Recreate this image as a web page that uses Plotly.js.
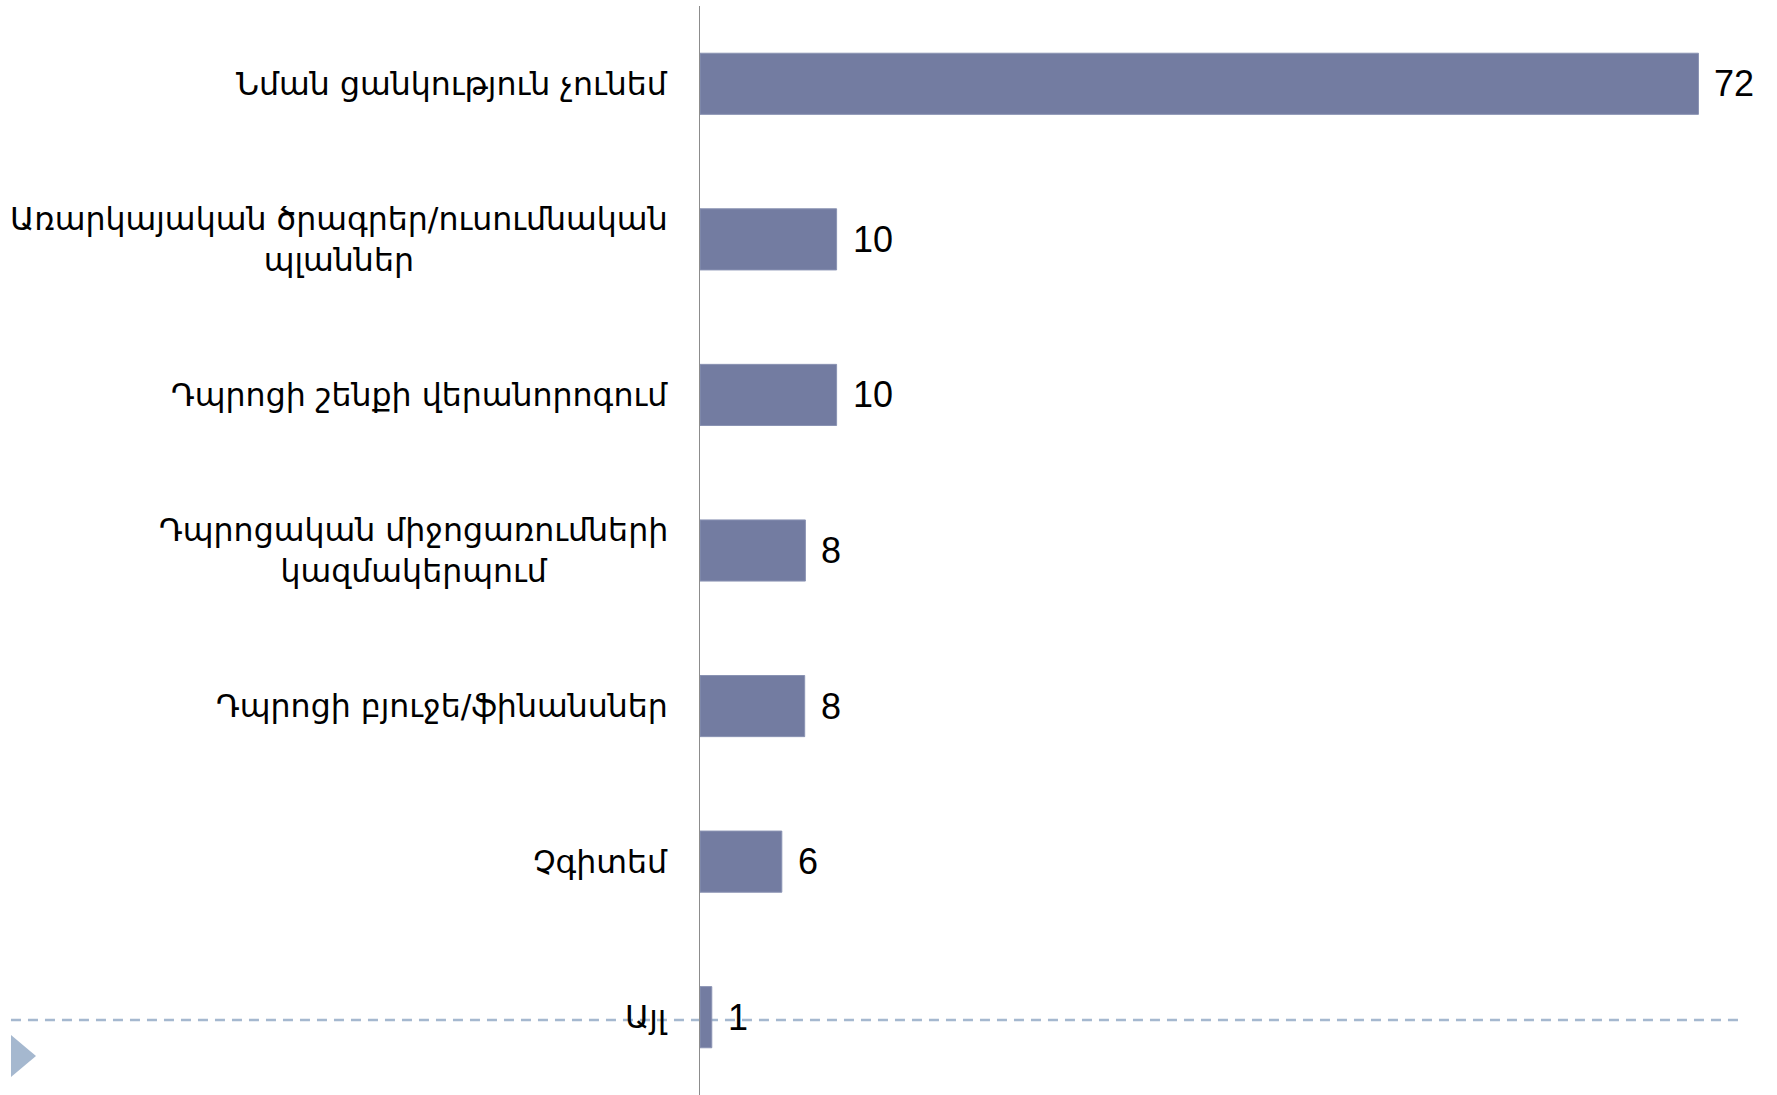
<!DOCTYPE html>
<html>
<head>
<meta charset="utf-8">
<script src="https://cdn.plot.ly/plotly-3.0.1.min.js"></script>
<style>html,body{margin:0;padding:0;background:#fff;}#chart{width:1777px;height:1095px;}</style>
</head>
<body>
<div id="chart"></div>
<script>
const categories = [
  "Նման ցանկություն չունեմ",
  "Առարկայական ծրագրեր/ուսումնական<br>պլաններ",
  "Դպրոցի շենքի վերանորոգում",
  "Դպրոցական միջոցառումների<br>կազմակերպում",
  "Դպրոցի բյուջե/ֆինանսներ",
  "Չգիտեմ",
  "Այլ"
];
// bar lengths
const values = [72, 9.85, 9.85, 7.6, 7.55, 5.9, 0.85];
// value labels as printed on the chart
const valueLabels = ["72", "10", "10", "8", "8", "6", "1"];

const barColor = "#737ca1";
const labelFont = {family: "DejaVu Sans, sans-serif", size: 31.6, color: "#000"};
const valueFont = {family: "Liberation Sans, Arial, sans-serif", size: 36, color: "#000"};

const trace = {
  type: "bar",
  orientation: "h",
  y: categories,
  x: values,
  marker: {color: barColor, line: {color: "#8a93b3", width: 1}},
  hoverinfo: "none"
};

const annotations = [];
categories.forEach((c, i) => {
  annotations.push({
    xref: "paper", yref: "y", x: 0, y: c,
    text: c, showarrow: false, xanchor: "right", yanchor: "middle",
    align: "center", xshift: -30, font: labelFont
  });
  annotations.push({
    xref: "x", yref: "y", x: values[i], y: c,
    text: valueLabels[i], showarrow: false, xanchor: "left", yanchor: "middle",
    xshift: 14, font: valueFont
  });
});

const layout = {
  width: 1777, height: 1095,
  margin: {l: 700, r: 30, t: 6, b: 0},
  paper_bgcolor: "#fff", plot_bgcolor: "#fff",
  showlegend: false,
  bargap: 0.607,
  xaxis: {range: [0, 75.5], visible: false, fixedrange: true},
  yaxis: {
    type: "category", autorange: false, range: [6.5, -0.5],
    showticklabels: false, ticks: "", showgrid: false, zeroline: false,
    showline: true, linecolor: "#8c8c8c", linewidth: 1.5
  },
  annotations: annotations,
  shapes: [
    {type: "line", xref: "paper", yref: "paper", x0: -0.6581, x1: 0.9933, y0: 0.0689, y1: 0.0689,
     line: {color: "#a5b8cf", width: 2.5, dash: "10px,7px"}, layer: "below"},
    {type: "path", xref: "paper", yref: "paper",
     path: "M -0.6581,0.0551 L -0.6342,0.0358 L -0.6581,0.0165 Z",
     fillcolor: "#a5b8cf", line: {width: 0}, layer: "above"}
  ]
};

Plotly.newPlot("chart", [trace], layout, {displayModeBar: false, staticPlot: true});
</script>
</body>
</html>
